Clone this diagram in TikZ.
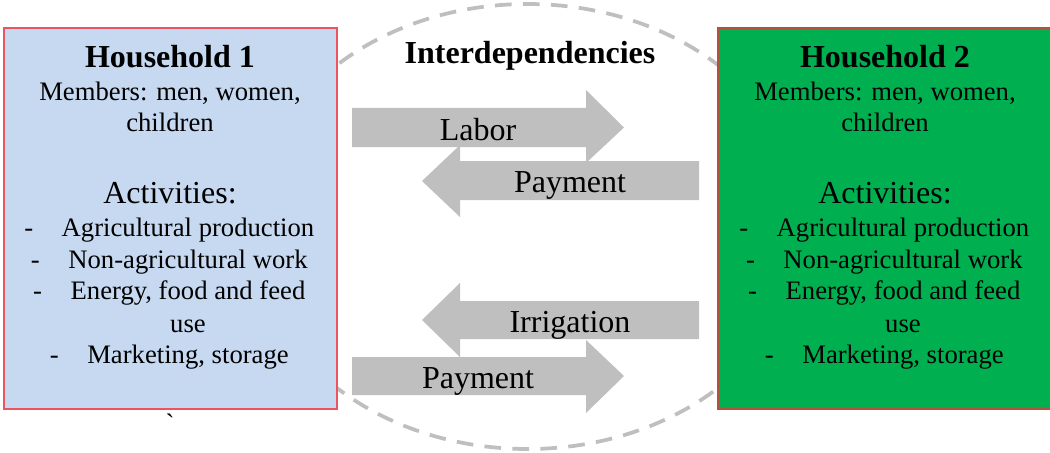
\documentclass[tikz,border=0pt]{standalone}
\usepackage{fontspec}
\setmainfont{Liberation Serif}
\definecolor{hhblue}{HTML}{C6D9F1}
\definecolor{hhgreen}{HTML}{00B050}
\definecolor{arrgray}{HTML}{BFBFBF}
\definecolor{bordA}{HTML}{EC5560}
\definecolor{bordB}{HTML}{B4503C}
\begin{document}
\begin{tikzpicture}[x=0.75pt,y=-0.75pt,
  bigtxt/.style={font=\fontsize{24}{28.8}\selectfont, inner sep=0pt, anchor=base},
  bigbold/.style={bigtxt, font=\fontsize{24}{28.8}\selectfont\bfseries},
  bodytxt/.style={font=\fontsize{20}{24}\selectfont, inner sep=0pt, anchor=base},
  dashmark/.style={bodytxt, anchor=base east},
  hhbox/.style={line width=1.5pt, inner sep=0pt, outer sep=0pt, minimum height=285.75pt},
  flow/.style={fill=arrgray, draw=none},
  ring/.style={draw=arrgray, line width=2.8pt, dash pattern=on 12.5pt off 8.5pt}]
\useasboundingbox (0,0) rectangle (1050,453);
% dashed ellipse behind everything
\draw[ring] (527.5,226.5) ellipse [x radius=277, y radius=222.5];
% household boxes
\node[hhbox, draw=bordA, fill=hhblue, minimum width=249.75pt] (hh1) at (170.5,218.5) {};
\node[hhbox, draw=bordB, fill=hhgreen, minimum width=250.5pt] (hh2) at (885,218.5) {};
% arrows
\path[flow] (352,108) -- (586,108) -- (586,90) -- (624,127.5) -- (586,163) -- (586,147) -- (352,147) -- cycle;
\path[flow] (699,161) -- (460,161) -- (460,145) -- (422,181) -- (460,217) -- (460,200) -- (699,200) -- cycle;
\path[flow] (699,301) -- (460,301) -- (460,283) -- (422,320) -- (460,357) -- (460,339) -- (699,339) -- cycle;
\path[flow] (352,357) -- (586,357) -- (586,340) -- (624,376) -- (586,413) -- (586,395) -- (352,395) -- cycle;
% arrow labels
\node[bigtxt] (lab) at (478,140) {Labor};
\node[bigtxt] (pay1) at (570,192) {Payment};
\node[bigtxt] (irr) at (570,332) {Irrigation};
\node[bigtxt] (pay2) at (478,388) {Payment};
\node[bigbold] (inter) at (530,64) {Interdependencies};
% household 1 text
\node[bigbold] (t1) at (170,68) {Household 1};
\node[bodytxt] (m1) at (170,100) {Members: men, women,};
\node[bodytxt] (c1) at (170,132) {children};
\node[bigtxt] (ac1) at (170,203) {Activities:};
\node[bodytxt] (a1) at (188,236) {Agricultural production};
\node[dashmark] at ([xshift=-21pt]a1.base west) {-};
\node[bodytxt] (b1) at (188,268) {Non-agricultural work};
\node[dashmark] at ([xshift=-21pt]b1.base west) {-};
\node[bodytxt] (e1) at (188,299) {Energy, food and feed};
\node[dashmark] at ([xshift=-21pt]e1.base west) {-};
\node[bodytxt] (u1) at (188,332) {use};
\node[bodytxt] (k1) at (188,363) {Marketing, storage};
\node[dashmark] at ([xshift=-21pt]k1.base west) {-};
% household 2 text
\node[bigbold] (t2) at (885,68) {Household 2};
\node[bodytxt] (m2) at (885,100) {Members: men, women,};
\node[bodytxt] (c2) at (885,132) {children};
\node[bigtxt] (ac2) at (885,203) {Activities:};
\node[bodytxt] (a2) at (903,236) {Agricultural production};
\node[dashmark] at ([xshift=-21pt]a2.base west) {-};
\node[bodytxt] (b2) at (903,268) {Non-agricultural work};
\node[dashmark] at ([xshift=-21pt]b2.base west) {-};
\node[bodytxt] (e2) at (903,299) {Energy, food and feed};
\node[dashmark] at ([xshift=-21pt]e2.base west) {-};
\node[bodytxt] (u2) at (903,332) {use};
\node[bodytxt] (k2) at (903,363) {Marketing, storage};
\node[dashmark] at ([xshift=-21pt]k2.base west) {-};
% stray mark below box 1
\node[font=\fontsize{20}{24}\selectfont, inner sep=0pt] (grv) at (170,423) {\textasciigrave};
\end{tikzpicture}
\end{document}
